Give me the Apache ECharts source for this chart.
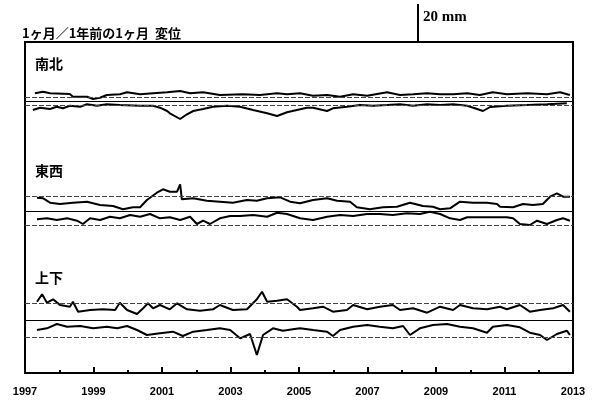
<!DOCTYPE html>
<html>
<head>
<meta charset="utf-8">
<script src="https://cdn.jsdelivr.net/npm/echarts@6/dist/echarts.min.js"></script>
<style>
html,body{margin:0;padding:0;background:#fff;}
#main{width:602px;height:403px;}
</style>
</head>
<body>
<div id="main"></div>
<script>
// 変位 [年, mm] 各パネル中央線からの値
var ns_a = [[1997.29,3.85],[1997.53,4.65],[1997.73,3.85],[1998.31,3.5],[1998.40,2.15],[1998.81,2.15],[1998.99,1.0],[1999.19,1.65],[1999.39,3.0],[1999.77,3.35],[1999.98,4.35],[2000.36,3.35],[2000.74,3.85],[2001.15,4.35],[2001.53,5.0],[2001.82,3.85],[2002.20,4.35],[2002.69,3.0],[2003.36,3.35],[2003.86,3.0],[2004.36,3.85],[2004.65,3.35],[2005.03,3.85],[2005.41,2.65],[2005.82,3.0],[2006.20,2.15],[2006.58,3.35],[2006.99,2.65],[2007.57,4.35],[2007.95,3.0],[2008.33,3.35],[2008.74,3.85],[2009.12,3.35],[2009.50,3.35],[2009.91,3.85],[2010.28,3.0],[2010.66,4.35],[2011.07,3.35],[2011.66,3.85],[2012.24,3.35],[2012.62,4.35],[2012.91,3.0]];
var ns_b = [[1997.23,-4.5],[1997.44,-3.35],[1997.73,-4.0],[1997.93,-2.85],[1998.11,-3.65],[1998.31,-2.35],[1998.61,-2.85],[1998.81,-1.65],[1999.10,-2.35],[1999.39,-1.65],[1999.77,-2.0],[2000.36,-2.35],[2000.74,-2.35],[2000.94,-3.35],[2001.15,-5.0],[2001.23,-6.15],[2001.53,-9.0],[2001.73,-6.65],[2001.91,-5.0],[2002.20,-4.0],[2002.49,-2.85],[2002.90,-2.35],[2003.28,-2.85],[2003.66,-4.5],[2004.07,-6.15],[2004.36,-7.5],[2004.65,-5.65],[2004.94,-4.5],[2005.23,-3.35],[2005.41,-3.35],[2005.82,-5.0],[2005.99,-3.65],[2006.40,-2.85],[2006.78,-2.0],[2007.16,-2.35],[2007.57,-2.0],[2007.95,-1.65],[2008.33,-2.35],[2008.74,-1.65],[2009.12,-2.0],[2009.50,-1.65],[2009.91,-2.35],[2010.20,-4.0],[2010.37,-5.0],[2010.58,-3.0],[2011.07,-2.35],[2011.66,-2.0],[2012.24,-1.65],[2012.82,-1.15]];
var ew_a = [[1997.35,6.65],[1997.53,6.35],[1997.73,4.15],[1998.02,3.5],[1998.40,4.15],[1998.81,4.65],[1999.19,3.0],[1999.57,2.5],[1999.86,0.85],[2000.15,1.85],[2000.36,1.85],[2000.56,5.5],[2000.85,9.15],[2001.03,10.85],[2001.23,9.65],[2001.44,9.65],[2001.53,13.35],[2001.58,5.85],[2001.91,6.35],[2002.31,5.15],[2002.69,4.65],[2003.07,4.15],[2003.48,5.5],[2003.77,5.15],[2004.07,6.35],[2004.45,6.85],[2004.74,4.65],[2005.03,3.85],[2005.41,5.5],[2005.82,6.35],[2006.11,5.15],[2006.49,4.65],[2006.69,1.85],[2007.07,0.85],[2007.45,1.85],[2007.86,2.15],[2008.24,4.15],[2008.62,2.5],[2008.91,2.15],[2009.12,0.85],[2009.41,1.35],[2009.70,4.65],[2010.08,4.15],[2010.49,4.15],[2010.78,3.5],[2010.87,2.15],[2011.25,1.85],[2011.54,3.5],[2011.83,3.0],[2012.12,3.5],[2012.33,7.15],[2012.53,8.85],[2012.71,7.15],[2012.91,7.15]];
var ew_b = [[1997.35,-4.15],[1997.64,-3.65],[1997.93,-4.5],[1998.23,-3.65],[1998.52,-4.85],[1998.69,-6.5],[1998.90,-3.65],[1999.19,-4.5],[1999.48,-2.85],[1999.77,-3.65],[2000.07,-2.0],[2000.36,-2.85],[2000.65,-1.5],[2000.94,-3.65],[2001.23,-3.15],[2001.53,-4.5],[2001.82,-2.85],[2002.02,-6.5],[2002.20,-4.85],[2002.40,-6.5],[2002.69,-3.65],[2002.99,-2.5],[2003.28,-2.5],[2003.66,-2.0],[2004.07,-2.85],[2004.36,-0.85],[2004.65,-1.5],[2005.03,-3.65],[2005.41,-4.5],[2005.82,-2.85],[2006.20,-2.0],[2006.58,-2.5],[2006.99,-1.5],[2007.36,-1.5],[2007.74,-2.0],[2008.15,-1.15],[2008.53,-1.5],[2008.82,-0.35],[2009.12,-1.5],[2009.41,-3.65],[2009.70,-4.5],[2009.91,-3.15],[2010.28,-3.15],[2010.66,-3.15],[2011.07,-3.15],[2011.25,-3.65],[2011.45,-6.5],[2011.74,-7.0],[2011.95,-4.85],[2012.24,-6.5],[2012.53,-4.5],[2012.71,-3.65],[2012.91,-4.85]];
var ud_a = [[1997.35,9.15],[1997.50,12.85],[1997.64,8.65],[1997.82,10.35],[1998.02,7.5],[1998.31,6.65],[1998.40,9.15],[1998.55,4.15],[1998.90,5.0],[1999.28,5.35],[1999.63,5.0],[1999.77,8.65],[1999.98,5.0],[2000.27,3.0],[2000.45,5.85],[2000.59,8.35],[2000.74,5.85],[2000.94,7.5],[2001.23,5.35],[2001.44,8.35],[2001.73,5.35],[2002.11,4.65],[2002.49,5.35],[2002.69,7.5],[2003.07,5.0],[2003.48,5.35],[2003.77,10.35],[2003.92,14.15],[2004.07,9.15],[2004.36,9.65],[2004.65,10.35],[2004.94,6.65],[2005.03,5.0],[2005.41,5.85],[2005.70,6.65],[2005.99,4.15],[2006.40,5.0],[2006.58,7.5],[2006.99,5.35],[2007.36,6.65],[2007.74,7.5],[2007.95,5.0],[2008.33,5.85],[2008.74,3.65],[2009.12,6.65],[2009.50,5.0],[2009.70,7.5],[2010.08,5.85],[2010.49,5.35],[2010.87,6.65],[2011.07,5.35],[2011.45,7.5],[2011.74,4.15],[2012.04,5.0],[2012.42,5.85],[2012.71,7.5],[2012.91,4.15]];
var ud_b = [[1997.35,-5.0],[1997.64,-4.15],[1997.93,-2.0],[1998.23,-3.35],[1998.61,-3.0],[1998.99,-4.15],[1999.39,-3.35],[1999.69,-4.15],[1999.98,-3.0],[2000.27,-5.0],[2000.56,-7.5],[2000.94,-6.65],[2001.32,-5.85],[2001.61,-8.0],[2001.91,-5.85],[2002.31,-5.0],[2002.69,-4.15],[2002.99,-5.0],[2003.28,-9.15],[2003.57,-7.0],[2003.77,-17.5],[2003.95,-7.5],[2004.24,-4.15],[2004.53,-5.35],[2004.82,-4.65],[2005.03,-4.15],[2005.41,-5.0],[2005.82,-5.85],[2005.99,-8.0],[2006.20,-5.0],[2006.58,-3.35],[2006.99,-2.5],[2007.36,-3.35],[2007.74,-4.15],[2008.04,-3.0],[2008.24,-7.5],[2008.53,-4.15],[2008.91,-2.5],[2009.32,-2.0],[2009.70,-3.35],[2010.08,-4.15],[2010.49,-6.35],[2010.66,-3.35],[2011.07,-2.5],[2011.45,-3.65],[2011.74,-6.35],[2012.04,-7.5],[2012.24,-10.0],[2012.53,-7.0],[2012.82,-5.35],[2012.91,-7.5]];

var panelNames = ["南北", "東西", "上下"];
var panelOffsets = [136, 81, 26.5];   // 中央線の高さ (mm)
var panelRefs = [2, 7.3, 8.4];        // 上下の基準線 (mm)
var yearStart = 1997, yearEnd = 2013;

var chart = echarts.init(document.getElementById("main"));

var build = function (pairs, off) {
    return pairs.map(function (p) { return [p[0] - yearStart, p[1] + off]; });
};
var refLines = function (off, r) {
    var dash = {color: "#444", width: 1, type: [5, 2]};
    return {
        silent: true,
        symbol: "none",
        animation: false,
        label: {show: false},
        data: [
            {yAxis: off + r, lineStyle: dash},
            {yAxis: off, lineStyle: {color: "#000", width: 1, type: "solid"}},
            {yAxis: off - r, lineStyle: dash}
        ]
    };
};
var lineSeries = function (pairs, off, ml) {
    var s = {
        type: "line",
        data: build(pairs, off),
        symbol: "none",
        animation: false,
        lineStyle: {color: "#000", width: 2},
        z: 3
    };
    if (ml) s.markLine = ml;
    return s;
};

var panelLabel = function (name, top) {
    return {
        type: "text", left: 35, top: top,
        style: {text: name, font: "bold 14px 'Noto Sans CJK JP'", fill: "#000"}
    };
};

option = {
    backgroundColor: "#fff",
    grid: {
        show: true,
        left: 25, right: 29, top: 42, bottom: 30,
        borderColor: "#000",
        borderWidth: 2
    },
    xAxis: {
        type: "value",
        min: 0,
        max: yearEnd - yearStart,
        interval: 2,
        axisLine: {show: false},
        axisTick: {inside: true, length: 6, lineStyle: {color: "#000", width: 2}},
        minorTick: {show: true, splitNumber: 2, length: 3, lineStyle: {color: "#000", width: 2}},
        splitLine: {show: false},
        axisLabel: {
            color: "#000",
            fontSize: 11,
            fontWeight: "bold",
            fontFamily: "Liberation Sans",
            margin: 13,
            formatter: function (v) { return String(yearStart + v); }
        }
    },
    yAxis: {
        type: "value",
        min: 0,
        max: 165.5,
        show: false
    },
    graphic: [
        {
            type: "text", left: 22, top: 27,
            style: {text: "1ヶ月／1年前の1ヶ月  変位", font: "bold 13px 'Noto Sans CJK JP'", fill: "#000"}
        },
        {
            type: "line",
            shape: {x1: 418, y1: 4, x2: 418, y2: 42},
            style: {stroke: "#000", lineWidth: 2}
        },
        {
            type: "text", left: 423, top: 10,
            style: {text: "20 mm", font: "bold 15px 'Liberation Serif'", fill: "#000"}
        },
        panelLabel(panelNames[0], 57),
        panelLabel(panelNames[1], 164),
        panelLabel(panelNames[2], 271)
    ],
    series: [
        lineSeries(ns_a, panelOffsets[0], refLines(panelOffsets[0], panelRefs[0])),
        lineSeries(ns_b, panelOffsets[0]),
        lineSeries(ew_a, panelOffsets[1], refLines(panelOffsets[1], panelRefs[1])),
        lineSeries(ew_b, panelOffsets[1]),
        lineSeries(ud_a, panelOffsets[2], refLines(panelOffsets[2], panelRefs[2])),
        lineSeries(ud_b, panelOffsets[2])
    ]
};
chart.setOption(option);
</script>
</body>
</html>
